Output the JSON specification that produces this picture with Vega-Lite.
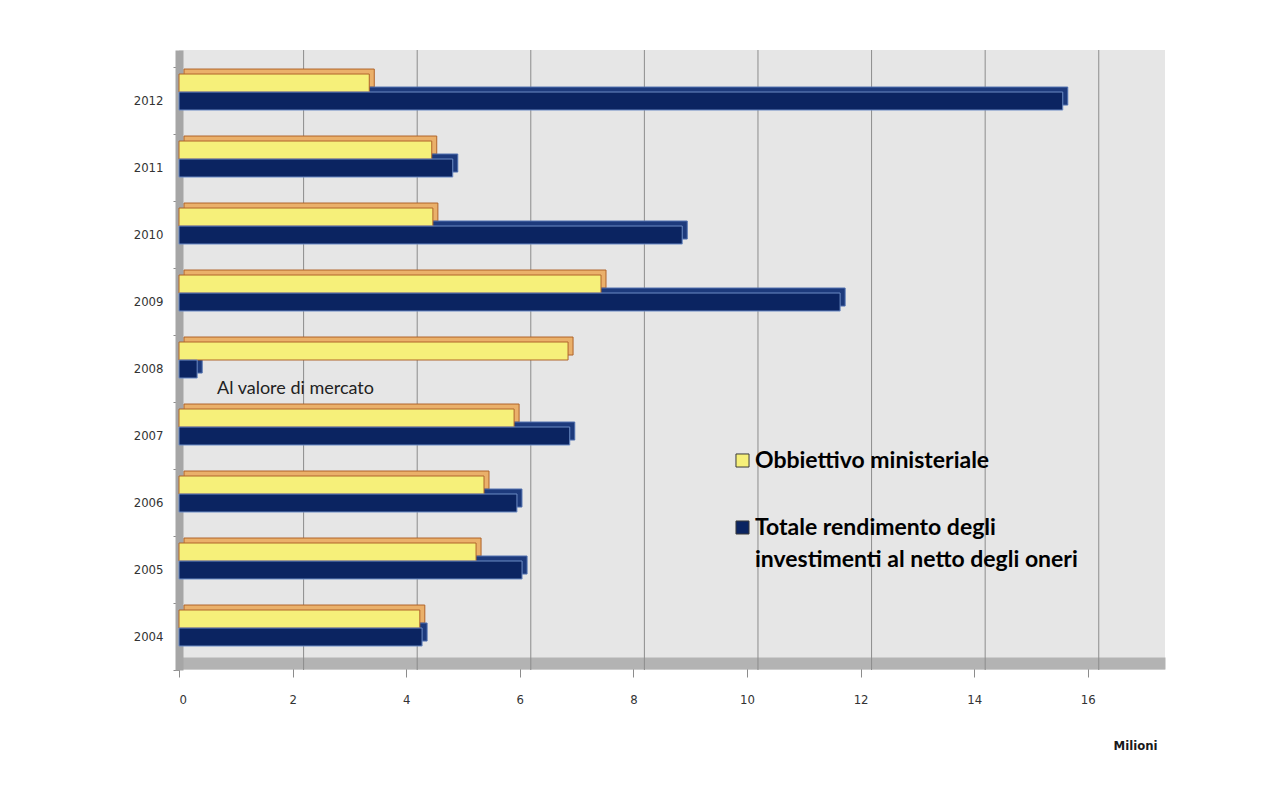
{
  "$schema": "https://vega.github.io/schema/vega-lite/v6.json",
  "autosize": "none",
  "width": 986,
  "height": 620,
  "padding": {"left": 179, "top": 50, "right": 117, "bottom": 121},
  "background": "white",
  "config": {
    "font": "Lato",
    "view": {"fill": "#e6e6e6", "stroke": null}
  },
  "datasets": {
    "bars": [
      {"year": 2012, "series": "Obbiettivo ministeriale", "value": 3.35},
      {"year": 2012, "series": "Totale rendimento degli investimenti al netto degli oneri", "value": 15.56},
      {"year": 2011, "series": "Obbiettivo ministeriale", "value": 4.45},
      {"year": 2011, "series": "Totale rendimento degli investimenti al netto degli oneri", "value": 4.82},
      {"year": 2010, "series": "Obbiettivo ministeriale", "value": 4.47},
      {"year": 2010, "series": "Totale rendimento degli investimenti al netto degli oneri", "value": 8.86},
      {"year": 2009, "series": "Obbiettivo ministeriale", "value": 7.43},
      {"year": 2009, "series": "Totale rendimento degli investimenti al netto degli oneri", "value": 11.64},
      {"year": 2008, "series": "Obbiettivo ministeriale", "value": 6.85},
      {"year": 2008, "series": "Totale rendimento degli investimenti al netto degli oneri", "value": 0.32},
      {"year": 2007, "series": "Obbiettivo ministeriale", "value": 5.9},
      {"year": 2007, "series": "Totale rendimento degli investimenti al netto degli oneri", "value": 6.88},
      {"year": 2006, "series": "Obbiettivo ministeriale", "value": 5.37},
      {"year": 2006, "series": "Totale rendimento degli investimenti al netto degli oneri", "value": 5.95},
      {"year": 2005, "series": "Obbiettivo ministeriale", "value": 5.23},
      {"year": 2005, "series": "Totale rendimento degli investimenti al netto degli oneri", "value": 6.04},
      {"year": 2004, "series": "Obbiettivo ministeriale", "value": 4.24},
      {"year": 2004, "series": "Totale rendimento degli investimenti al netto degli oneri", "value": 4.28}
    ],
    "gridlines": [
      {"value": 2}, {"value": 4}, {"value": 6}, {"value": 8},
      {"value": 10}, {"value": 12}, {"value": 14}, {"value": 16}
    ],
    "notes": [
      {"year": 2008, "value": 0.67, "note": "Al valore di mercato"}
    ]
  },
  "resolve": {"scale": {"yOffset": "independent"}},
  "layer": [
    {
      "data": {"name": "gridlines"},
      "mark": {"type": "rule", "xOffset": 11, "color": "#8c8c8c", "strokeWidth": 1},
      "encoding": {
        "x": {
          "field": "value",
          "type": "quantitative",
          "scale": {"domain": [0, 17.36], "nice": false},
          "axis": {
            "values": [0, 2, 4, 6, 8, 10, 12, 14, 16],
            "format": "d",
            "title": "Milioni",
            "titleFont": "'DejaVu Sans Condensed', Roboto, sans-serif",
            "titleFontSize": 13,
            "titleFontWeight": "bold",
            "titleColor": "#1a1a1a",
            "titleX": 956,
            "titleY": 82,
            "titleAlign": "center",
            "titleBaseline": "middle",
            "offset": -7,
            "domainColor": "#b3b3b3",
            "domainWidth": 12,
            "tickColor": "#8c8c8c",
            "tickSize": 14,
            "labelPadding": 16,
            "labelFont": "'DejaVu Sans Condensed', Roboto, sans-serif",
            "labelFontSize": 13,
            "labelColor": "#333333",
            "grid": false
          }
        }
      }
    },
    {
      "data": {"name": "bars"},
      "mark": {"type": "bar", "size": 18, "xOffset": 5, "strokeWidth": 1},
      "encoding": {
        "y": {
          "field": "year",
          "type": "nominal",
          "sort": "descending",
          "scale": {"paddingInner": 0, "paddingOuter": 0.127, "align": 1},
          "axis": {
            "title": null,
            "tickBand": "extent",
            "domainColor": "#a6a6a6",
            "domainWidth": 8,
            "tickColor": "#8c8c8c",
            "tickSize": 6,
            "labelPadding": 10,
            "labelFont": "'DejaVu Sans Condensed', Roboto, sans-serif",
            "labelFontSize": 13,
            "labelColor": "#333333",
            "grid": false
          }
        },
        "x": {"field": "value", "type": "quantitative"},
        "yOffset": {
          "field": "series",
          "type": "nominal",
          "scale": {
            "domain": ["Obbiettivo ministeriale", "Totale rendimento degli investimenti al netto degli oneri"],
            "paddingInner": 0,
            "paddingOuter": 0.861,
            "align": 0.065
          }
        },
        "fill": {
          "condition": {"test": "datum.series === 'Obbiettivo ministeriale'", "value": "#eab06a"},
          "value": "#1d3a7c"
        },
        "stroke": {
          "condition": {"test": "datum.series === 'Obbiettivo ministeriale'", "value": "#b0642a"},
          "value": "#4f6fae"
        }
      }
    },
    {
      "data": {"name": "bars"},
      "mark": {"type": "bar", "size": 18, "strokeWidth": 1},
      "encoding": {
        "y": {"field": "year", "type": "nominal", "sort": "descending"},
        "x": {"field": "value", "type": "quantitative"},
        "yOffset": {
          "field": "series",
          "type": "nominal",
          "scale": {
            "domain": ["Obbiettivo ministeriale", "Totale rendimento degli investimenti al netto degli oneri"],
            "paddingInner": 0,
            "paddingOuter": 0.861,
            "align": 0.226
          }
        },
        "color": {
          "field": "series",
          "type": "nominal",
          "scale": {
            "domain": ["Obbiettivo ministeriale", "Totale rendimento degli investimenti al netto degli oneri"],
            "range": ["#f6f07a", "#0b2461"]
          },
          "legend": {
            "orient": "none",
            "legendX": 552,
            "legendY": 399,
            "title": null,
            "symbolType": "square",
            "symbolSize": 170,
            "symbolStrokeColor": "#3a3a3a",
            "symbolStrokeWidth": 1,
            "labelFont": "Lato",
            "labelFontSize": 23,
            "labelFontWeight": "bold",
            "labelColor": "#000000",
            "labelLimit": 440,
            "labelOffset": 1,
            "rowPadding": 43,
            "labelExpr": "datum.label === 'Obbiettivo ministeriale' ? datum.label : ['Totale rendimento degli', 'investimenti al netto degli oneri']",
            "encode": {"labels": {"update": {"lineHeight": {"value": 32}}}}
          }
        },
        "stroke": {
          "condition": {"test": "datum.series === 'Obbiettivo ministeriale'", "value": "#b0642a"},
          "value": "#6d8cc5"
        }
      }
    },
    {
      "data": {"name": "notes"},
      "mark": {"type": "text", "align": "left", "baseline": "middle", "dy": 20, "fontSize": 18, "color": "#222222"},
      "encoding": {
        "y": {"field": "year", "type": "nominal", "sort": "descending"},
        "x": {"field": "value", "type": "quantitative"},
        "text": {"field": "note"}
      }
    }
  ]
}
